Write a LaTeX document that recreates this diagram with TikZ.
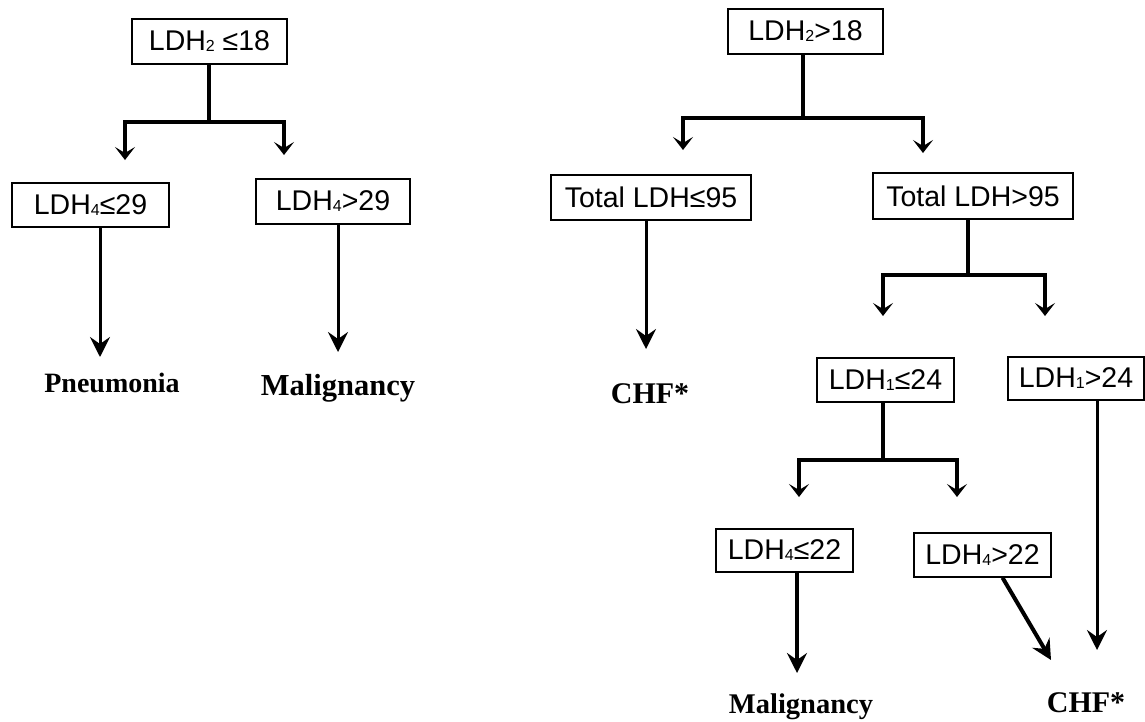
\documentclass[tikz,border=0pt]{standalone}
\usepackage{fontspec}
\setmainfont{Liberation Sans}
\newfontfamily\lblfont{Liberation Serif}
\usetikzlibrary{arrows.meta}
\newcommand{\sbs}[1]{\raisebox{-1pt}{\fontsize{16}{16}\selectfont #1}}
\tikzset{
  cbox/.style={draw, line width=1.3pt, inner sep=0pt, anchor=center,
    font=\fontsize{28.5}{30}\selectfont},
  outc/.style={font=\lblfont\bfseries\fontsize{28}{30}\selectfont, anchor=base, inner sep=0pt},
  stem/.style={line width=4pt, line cap=butt},
  branch/.style={line width=4pt, line join=miter, -{Stealth[length=13pt,width=20pt,inset=6pt]}},
  longarr/.style={line width=3pt, -{Stealth[length=20pt,width=20pt,inset=7pt]}},
}
\begin{document}
\begin{tikzpicture}[x=1pt,y=-1pt]
\fill[white] (0,0) rectangle (1145,721);
\useasboundingbox (0,0) rectangle (1145,721);

% boxes
\node[cbox, minimum width=155pt, minimum height=45pt] (b1) at (209.5,41.5) {LDH\sbs{2} ≤18};
\node[cbox, minimum width=157pt, minimum height=44pt] (b2) at (90.5,205) {LDH\sbs{4}≤29};
\node[cbox, minimum width=154pt, minimum height=45pt] (b3) at (333,201.5) {LDH\sbs{4}>29};
\node[cbox, minimum width=155pt, minimum height=45pt] (b4) at (805.5,31.5) {LDH\sbs{2}>18};
\node[cbox, minimum width=200pt, minimum height=45pt] (b5) at (651,197.5) {Total LDH≤95};
\node[cbox, minimum width=200pt, minimum height=46pt] (b6) at (973,196) {Total LDH>95};
\node[cbox, minimum width=137pt, minimum height=44pt] (b7) at (885.5,380) {LDH\sbs{1}≤24};
\node[cbox, minimum width=136pt, minimum height=43pt] (b8) at (1076,378.5) {LDH\sbs{1}>24};
\node[cbox, minimum width=137pt, minimum height=43pt] (b9) at (784.5,550.5) {LDH\sbs{4}≤22};
\node[cbox, minimum width=137pt, minimum height=44pt] (b10) at (982.5,555) {LDH\sbs{4}>22};

% outcomes
\node[outc] (o1) at (112,392) {Pneumonia};
\node[outc, font=\lblfont\bfseries\fontsize{30.5}{32}\selectfont] (o2) at (338,395) {Malignancy};
\node[outc, font=\lblfont\bfseries\fontsize{30}{32}\selectfont] (o3) at (650,403) {CHF*};
\node[outc, font=\lblfont\bfseries\fontsize{28.5}{32}\selectfont] (o4) at (801,713) {Malignancy};
\node[outc, font=\lblfont\bfseries\fontsize{30}{32}\selectfont] (o5) at (1086,712) {CHF*};

% junctions and arrow tips
\coordinate (j1) at (209,122);
\coordinate (t1a) at (125,160);
\coordinate (t1b) at (284,155);
\coordinate (t2) at (100,357);
\coordinate (t3) at (338,352);
\coordinate (j4) at (803,118);
\coordinate (t4a) at (683,150);
\coordinate (t4b) at (923,153);
\coordinate (t5) at (646,349);
\coordinate (j6) at (968,275);
\coordinate (t6a) at (883,316);
\coordinate (t6b) at (1045,316);
\coordinate (j7) at (883,460);
\coordinate (t7a) at (799,497);
\coordinate (t7b) at (957,497);
\coordinate (t8) at (1097,650);
\coordinate (t9) at (797,673);
\coordinate (t10) at (1051,660);

% left tree
\draw[stem] (b1.south -| j1) -- (j1);
\draw[branch] (j1) -| (t1a);
\draw[branch] (j1) -| (t1b);
\draw[longarr] (b2.south -| t2) -- (t2);
\draw[longarr] (b3.south -| t3) -- (t3);

% right tree
\draw[stem] (b4.south -| j4) -- (j4);
\draw[branch] (j4) -| (t4a);
\draw[branch] (j4) -| (t4b);
\draw[longarr] (b5.south -| t5) -- (t5);
\draw[stem] (b6.south -| j6) -- (j6);
\draw[branch] (j6) -| (t6a);
\draw[branch] (j6) -| (t6b);
\draw[stem] (b7.south -| j7) -- (j7);
\draw[branch] (j7) -| (t7a);
\draw[branch] (j7) -| (t7b);
\draw[longarr] (b8.south -| t8) -- (t8);
\draw[longarr, line width=4pt] ([xshift=20pt]b10.south) -- (t10);
\draw[longarr, line width=4pt] (b9.south -| t9) -- (t9);
\end{tikzpicture}
\end{document}
